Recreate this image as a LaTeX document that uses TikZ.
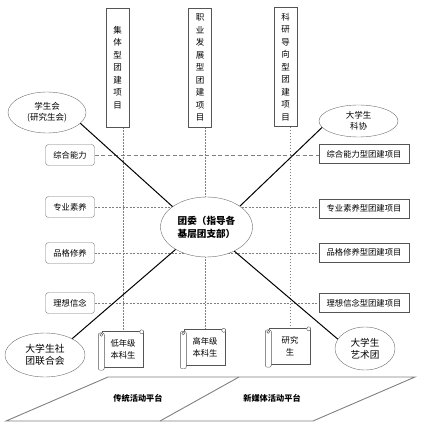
\documentclass[tikz,border=0pt]{standalone}
\usepackage{fontspec}
\usepackage{tikz}
\usetikzlibrary{positioning,shapes.geometric,backgrounds}
\newfontfamily\cjk{Noto Sans CJK SC}
\definecolor{tjLine}{HTML}{555555}
\definecolor{tjGrid}{HTML}{808080}
\tikzset{
  projbar/.style={rectangle,draw=tjLine,fill=white,minimum width=23pt,minimum height=119pt,
    inner sep=0pt,align=center,font=\cjk\fontsize{8.5}{12.5}\selectfont},
  abilitybox/.style={rectangle,draw=tjLine!80,fill=white,rounded corners=3pt,
    minimum width=49pt,minimum height=21pt,inner sep=1pt,font=\cjk\fontsize{8.3}{10}\selectfont},
  projbox/.style={rectangle,draw=tjLine,fill=white,minimum width=90pt,minimum height=19pt,
    inner sep=1pt,font=\cjk\fontsize{8.3}{10}\selectfont},
  orgellipse/.style={ellipse,draw=tjLine!85,fill=white,inner sep=0pt,align=center,
    font=\cjk\fontsize{8.5}{11}\selectfont},
  hubellipse/.style={ellipse,draw=tjLine!85,fill=white,minimum width=92pt,minimum height=60pt,
    inner sep=0pt,align=center,font=\cjk\bfseries\fontsize{9.6}{13}\selectfont},
  scrollbox/.style={rectangle,draw=tjLine,fill=white,minimum width=41pt,minimum height=36pt,
    inner sep=0pt,align=center,font=\cjk\fontsize{8.3}{12}\selectfont},
  link/.style={line width=1pt,black},
  vgrid/.style={draw=tjGrid,dash pattern=on 1.5pt off 1.5pt},
  hgrid/.style={draw=tjGrid,dash pattern=on 2pt off 1.5pt},
  hgridwide/.style={draw=tjGrid,dash pattern=on 4pt off 2.5pt},
  platform/.style={draw=tjGrid,line width=0.9pt},
  platlabel/.style={font=\cjk\bfseries\fontsize{8.2}{10}\selectfont}
}
\newcommand{\scrollcurl}[1]{%
  \draw[tjLine,fill=white,rounded corners=2pt] ([xshift=-4pt,yshift=-2pt]#1.north west)
    rectangle ([xshift=2pt,yshift=-3pt]#1.south west);
  \draw[tjLine] ([xshift=-1pt,yshift=-4pt]#1.north west) circle (1.5pt);
  \draw[tjLine,fill=white] ([xshift=-2pt,yshift=-1pt]#1.north east) circle (2pt);
}

\begin{document}
\begin{tikzpicture}[x=1pt,y=-1pt]
  \useasboundingbox (0,0) rectangle (420,427);
  % project bars on top
  \node[projbar] (jt) at (117.5,67.5) {集\\体\\型\\团\\建\\项\\目};
  \node[projbar] (zy) at (200,67.5) {职\\业\\发\\展\\型\\团\\建\\项\\目};
  \node[projbar] (ky) at (285.5,67) {科\\研\\导\\向\\型\\团\\建\\项\\目};
  % hub and organisations
  \node[hubellipse] (tw) at (206.5,227) {团委（指导各\\基层团支部）};
  \node[orgellipse,minimum width=78pt,minimum height=41pt] (xsh) at (47,112.5) {学生会\\(研究生会)};
  \node[orgellipse,minimum width=79pt,minimum height=32pt] (kx) at (358.5,121) {大学生\\科协};
  \node[orgellipse,minimum width=80pt,minimum height=44pt,
    font=\cjk\fontsize{9.8}{12.5}\selectfont] (sl) at (45,355) {大学生社\\团联合会};
  \node[orgellipse,minimum width=60pt,minimum height=43pt,
    font=\cjk\fontsize{9.6}{12}\selectfont] (yst) at (365,348.5) {大学生\\艺术团};
  % abilities and projects
  \node[abilitybox] (la) at (70,155) {综合能力};
  \node[abilitybox] (lb) at (70,207) {专业素养};
  \node[abilitybox] (lc) at (70,253) {品格修养};
  \node[abilitybox] (ld) at (70,303) {理想信念};
  \node[projbox] (ra) at (364,154) {综合能力型团建项目};
  \node[projbox] (rb) at (364,208.5) {专业素养型团建项目};
  \node[projbox] (rc) at (364,252.5) {品格修养型团建项目};
  \node[projbox] (rd) at (364,303) {理想信念型团建项目};
  % students
  \node[scrollbox] (dn) at (123,349) {低年级\\本科生};
  \node[scrollbox] (gn) at (205,347.5) {高年级\\本科生};
  \node[scrollbox] (ys) at (290,346) {研究\\生};
  \scrollcurl{dn}
  \scrollcurl{gn}
  \scrollcurl{ys}
  % grid
  \begin{scope}[on background layer]
    \draw[vgrid] (jt.south -| dn.north) -- (dn.north);
    \draw[vgrid] (zy.south -| gn.north) -- (gn.north);
    \draw[vgrid] (ky.south -| ys.north) -- (ys.north);
    \draw[hgridwide] (la.east) -- (la.east -| ra.west);
    \draw[hgrid] (lb.east) -- (lb.east -| rb.west);
    \draw[hgrid] (lc.east) -- (lc.east -| rc.west);
    \draw[hgrid] (ld.east) -- (ld.east -| rd.west);
  \end{scope}
  \draw[link] (xsh.-18) -- (tw.149);
  \draw[link] (kx.190) -- (tw.32);
  \draw[link] (tw.216) -- (sl.31);
  \draw[link] (tw.-41) -- (yst.161);
  % platforms
  \draw[platform] (6,421) -- (108,377) -- (415,377) -- (313,421) -- cycle;
  \draw[platform] (160,421) -- (239,377);
  \node[platlabel] (ct) at (138,398) {传统活动平台};
  \node[platlabel] (xm) at (272,398) {新媒体活动平台};
\end{tikzpicture}
\end{document}
